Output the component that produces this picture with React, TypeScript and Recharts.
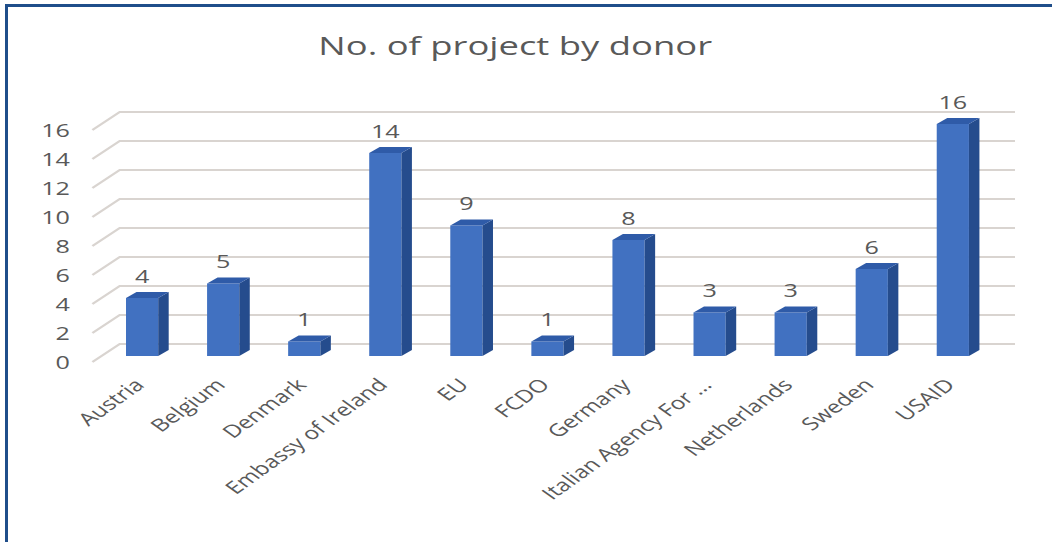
import React from 'react';
import { Bar, BarChart, CartesianGrid, LabelList, XAxis, YAxis } from 'recharts';

const donors = [
  'Austria',
  'Belgium',
  'Denmark',
  'Embassy of Ireland',
  'EU',
  'FCDO',
  'Germany',
  'Italian Agency For ...',
  'Netherlands',
  'Sweden',
  'USAID',
];
const projects = [4, 5, 1, 14, 9, 1, 8, 3, 3, 6, 16];
const yTicks = [0, 2, 4, 6, 8, 10, 12, 14, 16];

const data = donors.map((name, i) => ({ name, value: projects[i] }));

// the source picture is stretched sideways, so the chart is drawn narrow and scaled
const STRETCH = 1.4;
const W = 751;
const H = 542;
const FONT = '"Open Sans", sans-serif';
const TEXT = '#595959';
const DX = 7.5;
const DY = 6;

const Bar3D = (props: any) => {
  const { x, y, width, height } = props;
  if (height <= 0) return null;
  const r = x + width;
  const b = y + height;
  return (
    <g>
      <rect x={x} y={y} width={width} height={height} fill="#4171c1" />
      <polygon points={`${r},${y} ${r + DX},${y - DY} ${r + DX},${b - DY} ${r},${b}`} fill="#254c8d" />
      <polygon points={`${x},${y} ${x + DX},${y - DY} ${r + DX},${y - DY} ${r},${y}`} fill="#2f5ba8" />
    </g>
  );
};

const GridLine = (props: any) => {
  const { x1, x2, y1 } = props;
  return (
    <path
      key={props.key}
      d={`M${x1 - 7},${y1 + 6} L${x1 + 12.5},${y1 - 12} L${x2 + 15},${y1 - 12}`}
      fill="none"
      stroke="#d9d4d0"
      strokeWidth={1.8}
    />
  );
};

const YTick = (props: any) => {
  const { y, payload } = props;
  return (
    <text x={50} y={y + 6} textAnchor="end" dominantBaseline="central" fill={TEXT} fontSize={18} fontFamily={FONT}>
      {payload.value}
    </text>
  );
};

const XTick = (props: any) => {
  const { x, y, payload } = props;
  const tx = x + 2;
  const ty = y + 22;
  return (
    <text
      x={tx}
      y={ty}
      textAnchor="end"
      transform={`rotate(-45 ${tx} ${ty})`}
      fill={TEXT}
      fontSize={17.5}
      fontFamily={FONT}
    >
      {payload.value}
    </text>
  );
};

export default function App() {
  return (
    <div style={{ position: 'absolute', left: 0, top: 0, width: 1052, height: H, overflow: 'hidden', background: '#fff' }}>
      <div
        style={{
          position: 'absolute',
          left: 5,
          top: 4,
          width: 1100,
          height: 600,
          borderLeft: '3px solid #1f4e8a',
          borderTop: '3px solid #1f4e8a',
        }}
      />
      <div style={{ position: 'absolute', left: 0, top: 0, width: W, height: H, transform: `scaleX(${STRETCH})`, transformOrigin: '0 0' }}>
        <div
          style={{
            position: 'absolute',
            left: 0,
            top: 32,
            width: 736,
            textAlign: 'center',
            fontFamily: FONT,
            fontSize: 26,
            lineHeight: '26px',
            color: TEXT,
          }}
        >
          No. of project by donor
        </div>
        <BarChart width={W} height={H} data={data} margin={{ top: 124, right: 41, bottom: 36, left: 0 }}>
          <CartesianGrid vertical={false} horizontal={GridLine} />
          <XAxis dataKey="name" interval={0} height={150} axisLine={false} tickLine={false} tick={<XTick />} />
          <YAxis width={73} domain={[0, 16]} ticks={yTicks} axisLine={false} tickLine={false} tick={<YTick />} />
          <Bar dataKey="value" barSize={23} shape={<Bar3D />} isAnimationActive={false}>
            <LabelList dataKey="value" position="top" offset={15} fill={TEXT} fontSize={18} fontFamily={FONT} />
          </Bar>
        </BarChart>
      </div>
    </div>
  );
}
